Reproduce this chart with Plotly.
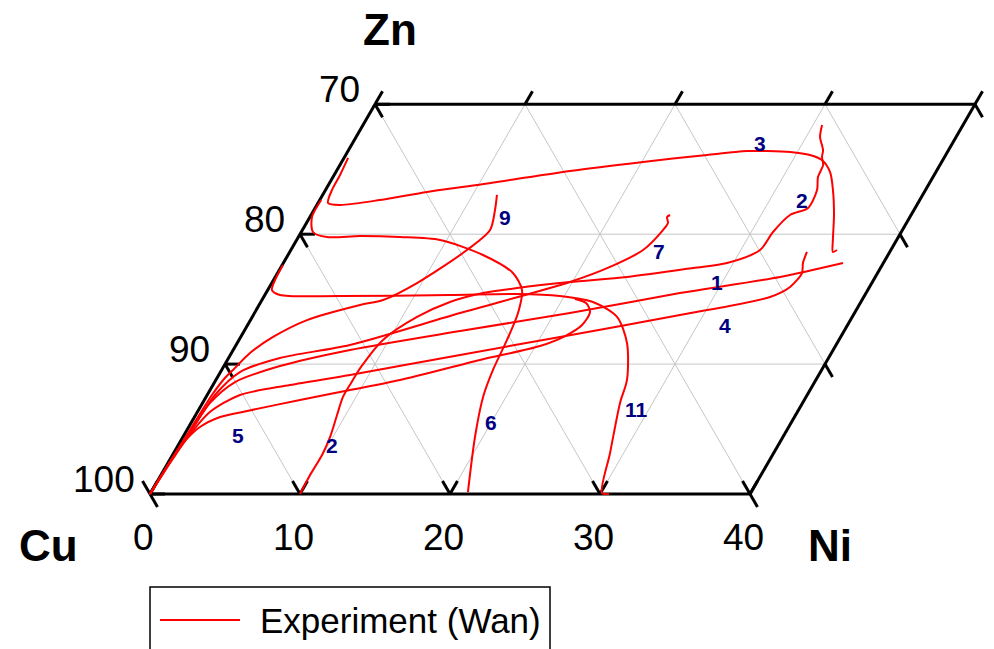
import numpy as np
import plotly.graph_objects as go

# Composition paths (wt% Ni, wt% Zn); Cu is the balance.
c1_ni = [0, 0.08, 0.28, 0.5, 1.36, 3.74, 7.79, 14.4, 21.03, 27.59, 33.65, 37.31]
c1_zn = [0, 2.23, 4.77, 7.01, 8.62, 9.85, 11.09, 12.55, 13.93, 15.47, 16.71, 17.78]

c2_ni = [10, 9.94, 9.97, 9.81, 9.43, 9.13, 9.13, 9.18, 9.6, 10.99, 12.61, 14.46, 16.54, 19.84,
         23.45, 27.5, 29.58, 31.28, 31.45, 31.93, 32.86, 32.77, 32.33, 32.21, 31.83, 31.63, 30.93, 30.6]
c2_zn = [0, 1.46, 3.0, 4.39, 6.08, 7.47, 8.55, 9.78, 11.86, 13.63, 14.78, 15.47, 15.86, 16.32,
         16.71, 17.4, 17.78, 18.78, 20.17, 21.48, 22.02, 23.4, 24.4, 25.33, 25.94, 26.48, 27.48, 28.41]

c3_ni = [0.27, 0.39, 0.43, 0.67, 1.55, 4.01, 6.85, 9.91, 15.57, 20.09, 24.08, 26.6, 27.93,
         29.51, 30.95, 31.94, 32.94, 33.83, 34.86, 35.75, 36.21, 36.41]
c3_zn = [25.87, 24.56, 23.4, 22.4, 22.25, 22.63, 23.25, 23.79, 24.87, 25.56, 26.1, 26.4, 26.4,
         26.33, 26.1, 25.71, 24.79, 23.4, 21.48, 19.55, 18.63, 18.78]

c4_ni = [0, 0.08, 0.34, 0.84, 2.19, 5.13, 8.75, 15.32, 21.29, 28.44, 33.75, 34.7, 34.96, 34.64, 34.48]
c4_zn = [0, 1.85, 4.39, 6.31, 7.62, 8.39, 9.16, 10.7, 12.09, 13.78, 15.17, 15.94, 17.01, 17.78, 18.63]

c5_ni = [0, 0.16, 0.32, 0.75, 1.71, 3.28, 6.38, 9.33, 12.28, 16.84, 20.3, 21.59, 22.3, 22.33, 21.72, 20.82]
c5_zn = [0, 2.62, 4.16, 5.16, 5.93, 6.39, 7.24, 8.01, 8.78, 10.32, 11.39, 12.16, 13.01, 14.01, 14.7, 15.01]

c6_ni = [0.1, 0.14, 0.78, 1.91, 4.07, 6.78, 9.56, 13.0, 15.69, 16.95, 17.57, 17.87, 18.09, 18.47, 19.47, 21.12]
c6_zn = [22.63, 21.32, 20.17, 19.78, 19.86, 19.78, 19.55, 18.4, 17.01, 15.7, 13.93, 11.86, 9.55, 7.47, 4.39, 0.15]

c7_ni = [0, 0.1, 0.34, 0.52, 1.3, 3.43, 7.59, 13.7, 19.84, 21.93, 23.48, 24.04, 24.1, 23.81, 23.93]
c7_zn = [0, 2.46, 5.31, 7.62, 9.39, 10.47, 11.47, 13.93, 16.32, 17.48, 18.78, 20.32, 20.86, 21.32, 21.48]

c9_ni = [0, 0.08, 0.2, 0.32, 0.53, 0.76, 1.24, 2.16, 3.77, 6.73, 8.07, 9.68, 11.74, 12.51, 12.07, 11.62]
c9_zn = [0, 1.85, 4.93, 7.62, 8.93, 9.55, 10.85, 12.09, 13.39, 14.55, 14.93, 16.24, 18.78, 20.32, 21.86, 23.02]

c11_ni = [0.05, 0.1, 0.28, 1.01, 5.05, 12.34, 16.77, 19.71, 22.14, 24.32, 25.99, 27.41, 27.83, 29.09, 30.09, 30.6]
c11_zn = [17.63, 16.47, 15.7, 15.32, 15.24, 15.32, 15.4, 15.24, 14.78, 13.63, 11.62, 8.78, 7.01, 3.16, 0.08, 0]

paths = [(c1_ni, c1_zn), (c2_ni, c2_zn), (c3_ni, c3_zn), (c4_ni, c4_zn), (c5_ni, c5_zn),
         (c6_ni, c6_zn), (c7_ni, c7_zn), (c9_ni, c9_zn), (c11_ni, c11_zn)]

# Path number labels and where they sit (wt% Ni, wt% Zn)
lab_text = ["3", "2", "9", "7", "1", "4", "5", "2", "6", "11"]
lab_ni = [27.16, 32.19, 13.01, 24.61, 29.64, 31.83, 3.64, 10.24, 19.96, 29.17]
lab_zn = [27.02, 22.56, 21.32, 18.63, 16.32, 13.01, 4.47, 3.77, 5.54, 6.47]

# Axis extents and ticks
ni_ticks = [0, 10, 20, 30, 40]
zn_ticks = [0, 10, 20, 30]
cu_labels = ["100", "90", "80", "70"]
ni_max, zn_max = 40, 30

H = np.sqrt(3) / 2


def tern(ni, zn):
    ni = np.asarray(ni, float)
    zn = np.asarray(zn, float)
    return ni + zn / 2, zn * H


def seg_trace(segs, color, width):
    xs, ys = [], []
    for (n0, z0), (n1, z1) in segs:
        x, y = tern([n0, n1], [z0, z1])
        xs += list(x) + [None]
        ys += list(y) + [None]
    return go.Scatter(x=xs, y=ys, mode="lines", line=dict(color=color, width=width),
                      hoverinfo="skip", showlegend=False)


fig = go.Figure()

# grid lines: constant Zn, constant Ni, constant Cu
grid = []
for z in zn_ticks[1:-1]:
    grid.append(((0, z), (ni_max, z)))
for n in ni_ticks[1:-1]:
    grid.append(((n, 0), (n, zn_max)))
for c in range(10, ni_max + zn_max, 10):
    z_lo = max(0, c - ni_max)
    z_hi = min(zn_max, c)
    grid.append(((c - z_lo, z_lo), (c - z_hi, z_hi)))
fig.add_trace(seg_trace(grid, "#c6c6c6", 1))

# frame
frame = [((0, 0), (ni_max, 0)), ((ni_max, 0), (ni_max, zn_max)),
         ((ni_max, zn_max), (0, zn_max)), ((0, zn_max), (0, 0))]
# ticks
tk = 1.0
for n in ni_ticks:
    frame.append(((n, 0), (n, tk)))
    frame.append(((n, 0), (n - tk, tk)))
    frame.append(((n, zn_max), (n, zn_max + tk)))
for z in zn_ticks:
    frame.append(((0, z), (tk, z)))
    frame.append(((0, z), (tk, z - tk)))
    frame.append(((ni_max, z), (ni_max + tk, z - tk)))
fig.add_trace(seg_trace(frame, "black", 3))

# experimental paths
for i, (ni, zn) in enumerate(paths):
    x, y = tern(ni, zn)
    fig.add_trace(go.Scatter(x=x, y=y, mode="lines",
                             line=dict(color="#ff0000", width=2, shape="spline", smoothing=0.8),
                             name="Experiment (Wan)", legendgroup="wan", showlegend=False))

font = "Liberation Sans, Arial, sans-serif"
ann = []
for t, n, z in zip(lab_text, lab_ni, lab_zn):
    x, y = tern(n, z)
    ann.append(dict(x=float(x), y=float(y), text="<b>%s</b>" % t, showarrow=False,
                    xanchor="center", yanchor="middle",
                    font=dict(family=font, size=21, color="#000080")))
for n in ni_ticks:
    x, y = tern(n, 0)
    ann.append(dict(x=float(x), y=float(y), text=str(n), showarrow=False, xshift=-7, yshift=-43,
                    xanchor="center", yanchor="middle",
                    font=dict(family=font, size=37, color="black")))
for z, t in zip(zn_ticks, cu_labels):
    x, y = tern(0, z)
    ann.append(dict(x=float(x), y=float(y), text=t, showarrow=False, xanchor="right",
                    yanchor="middle", xshift=-13, yshift=15,
                    font=dict(family=font, size=37, color="black")))

W, Hpx = 994, 649


def px(xp, yp):
    return dict(x=xp / W, y=1 - yp / Hpx, xref="paper", yref="paper", yanchor="middle")


for t, (xp, yp) in [("Zn", (390, 30)), ("Cu", (48, 545)), ("Ni", (830, 545))]:
    ann.append(dict(**px(xp, yp), text="<b>%s</b>" % t, showarrow=False, xanchor="center",
                    font=dict(family=font, size=44, color="black")))

# legend box
ann.append(dict(**px(258, 620), text="Experiment (Wan)", showarrow=False, xanchor="left",
                font=dict(family=font, size=35, color="black")))
shapes = [
    dict(type="rect", xref="paper", yref="paper", x0=150 / W, x1=550 / W,
         y0=1 - 665 / Hpx, y1=1 - 587 / Hpx, line=dict(color="black", width=1.5)),
    dict(type="line", xref="paper", yref="paper", x0=160 / W, x1=240 / W,
         y0=1 - 620 / Hpx, y1=1 - 620 / Hpx, line=dict(color="#ff0000", width=2)),
]

fig.update_layout(
    width=W, height=Hpx, margin=dict(l=0, r=0, t=0, b=0),
    paper_bgcolor="white", plot_bgcolor="white", showlegend=False,
    xaxis=dict(range=[-10, (W - 150) / 15], visible=False, fixedrange=True),
    yaxis=dict(range=[(494 - Hpx) / 15, 494 / 15], visible=False, fixedrange=True),
    annotations=ann, shapes=shapes,
)

fig.write_html("out.html")
